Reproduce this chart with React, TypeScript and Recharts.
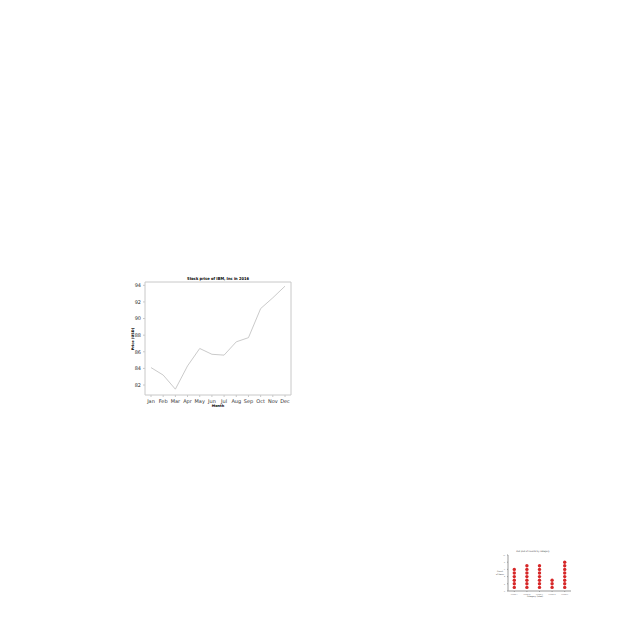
import React from 'react';
import {
  LineChart,
  Line,
  XAxis,
  YAxis,
  ScatterChart,
  Scatter,
} from 'recharts';

const months = ['Jan', 'Feb', 'Mar', 'Apr', 'May', 'Jun', 'Jul', 'Aug', 'Sep', 'Oct', 'Nov', 'Dec'];
const prices = [84.1, 83.2, 81.5, 84.3, 86.4, 85.7, 85.6, 87.2, 87.7, 91.2, 92.5, 93.9];
const priceTicks = [82, 84, 86, 88, 90, 92, 94];

const dotGroups = ['Group A', 'Group B', 'Group C', 'Group D', 'Group E'];
const dotCounts = [6, 7, 7, 3, 8];

const lineData = months.map((m, i) => ({ month: m, price: prices[i] }));

// one point per dot, stacked from 1 up to the count
const dotData = dotGroups.flatMap((g, gi) =>
  Array.from({ length: dotCounts[gi] }, (_, k) => ({ x: gi + 1, y: k + 1 }))
);

const gray = '#c8c8c8';
const tickStyle = { fontSize: 5, fill: '#333', fontFamily: 'DejaVu Sans' };

const SmallDot = (props: any) => (
  <circle cx={props.cx} cy={props.cy} r={1.7} fill="#d62728" />
);

export default function App() {
  return (
    <div style={{ position: 'absolute', left: 0, top: 0, width: 640, height: 640, background: '#fff' }}>
      {/* main line chart */}
      <div style={{ position: 'absolute', left: 120, top: 272 }}>
        <LineChart width={180} height={140} data={lineData} margin={{ top: 9, right: 8, bottom: 0, left: 5 }}>
          <XAxis
            dataKey="month"
            padding={{ left: 6, right: 6 }}
            stroke={gray}
            tick={tickStyle}
            tickSize={2}
            height={17}
            interval={0}
          />
          <XAxis xAxisId="top" orientation="top" dataKey="month" stroke={gray} tick={false} tickLine={false} height={1} />
          <YAxis
            domain={[80.8, 94.4]}
            ticks={priceTicks}
            stroke={gray}
            tick={tickStyle}
            tickSize={2}
            width={20}
          />
          <YAxis yAxisId="right" orientation="right" stroke={gray} tick={false} tickLine={false} width={1} />
          <Line
            type="linear"
            dataKey="price"
            stroke="#bdbdbd"
            strokeWidth={0.8}
            dot={false}
            isAnimationActive={false}
          />
          <text x={98} y={8} textAnchor="middle" fontSize={4} fontWeight="bold" fontFamily="Liberation Sans Narrow, DejaVu Sans Condensed" fill="#000">
            Stock price of IBM, Inc in 2016
          </text>
          <text x={98} y={135} textAnchor="middle" fontSize={3.5} fontWeight="bold" fontFamily="DejaVu Sans" fill="#000">
            Month
          </text>
          <text x={0} y={0} transform="translate(14,67) rotate(-90)" textAnchor="middle" fontSize={3.5} fontWeight="bold" fontFamily="DejaVu Sans" fill="#000">
            Price (USD)
          </text>
        </LineChart>
      </div>

      {/* small dot chart */}
      <div style={{ position: 'absolute', left: 495, top: 548 }}>
        <ScatterChart width={80} height={50} margin={{ top: 7, right: 4, bottom: 0, left: 3 }}>
          <XAxis
            type="number"
            dataKey="x"
            domain={[0.5, 5.5]}
            ticks={[1, 2, 3, 4, 5]}
            tickFormatter={(v: number) => dotGroups[v - 1] ?? ''}
            stroke="#999"
            tick={{ fontSize: 2, fill: '#555' }}
            tickSize={1}
            height={7}
          />
          <YAxis
            type="number"
            dataKey="y"
            domain={[0, 10]}
            ticks={[0, 2, 4, 6, 8, 10]}
            stroke="#999"
            tick={{ fontSize: 2, fill: '#555' }}
            tickSize={1}
            width={10}
          />
          <Scatter data={dotData} shape={SmallDot} isAnimationActive={false} />
          <text x={38} y={4} textAnchor="middle" fontSize={2.2} fill="#444" fontFamily="DejaVu Sans">
            Dot plot of counts by category
          </text>
          <text x={40} y={49} textAnchor="middle" fontSize={2} fill="#444" fontFamily="DejaVu Sans">
            Category (label)
          </text>
          <text x={5} y={24} textAnchor="middle" fontSize={2} fill="#444" fontFamily="DejaVu Sans">
            Count
          </text>
          <text x={5} y={27} textAnchor="middle" fontSize={2} fill="#444" fontFamily="DejaVu Sans">
            of items
          </text>
        </ScatterChart>
      </div>
    </div>
  );
}
